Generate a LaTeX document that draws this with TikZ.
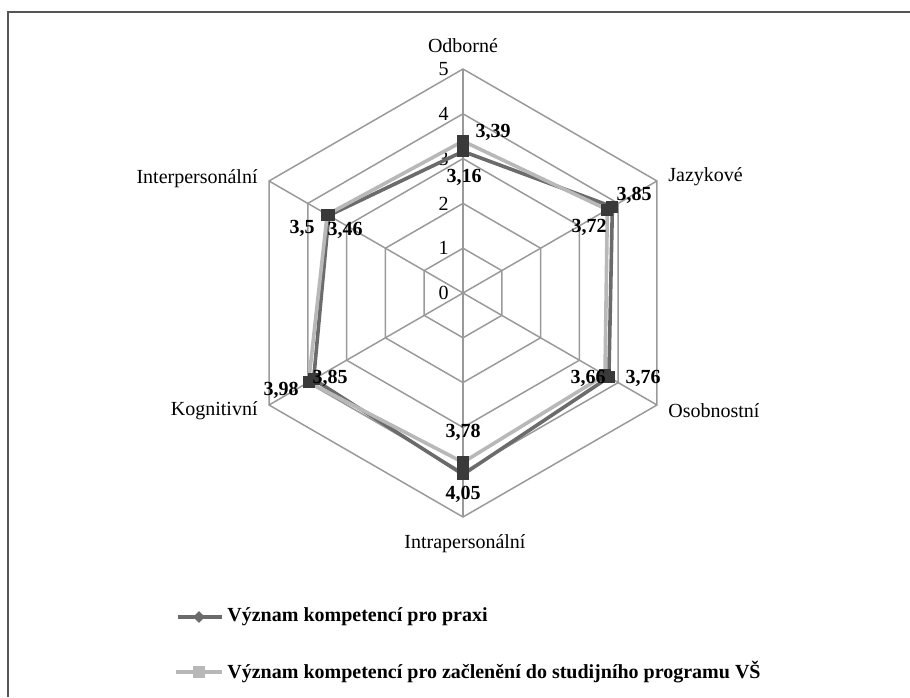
\documentclass[tikz,border=0pt]{standalone}
\usepackage{fontspec}
\setmainfont{Liberation Serif}
\usetikzlibrary{shapes,shapes.geometric}
\definecolor{gridc}{HTML}{9A9A9A}
\definecolor{darkc}{HTML}{6B6B6B}
\definecolor{lightc}{HTML}{B8B8B8}
\definecolor{markc}{HTML}{3A3A3A}
\definecolor{framec}{HTML}{555555}
\tikzset{
  grid_l/.style = {draw=gridc, line width=0.75pt},
  ax_lbl/.style = {inner sep=0pt, font=\fontsize{10}{12}\selectfont},
  val_lbl/.style = {inner sep=0pt, font=\fontsize{10}{12}\selectfont\bfseries},
  ser_p/.style = {draw=darkc, line width=1.8pt, line join=round},
  ser_v/.style = {draw=lightc, line width=1.8pt, line join=round},
  mark_sq/.style = {rectangle, fill=markc, minimum size=6pt, inner sep=0pt},
  leg_p/.style = {diamond, fill=darkc, minimum size=6pt, inner sep=0pt},
  leg_v/.style = {rectangle, fill=lightc, minimum size=6pt, inner sep=0pt}
}

\begin{document}
\begin{tikzpicture}[x=0.5pt, y=0.5pt]
	\useasboundingbox (0,0) rectangle (910,697);
	\draw[framec, line width=1pt] (8,0) -- (8,685) -- (910,685);

	\begin{scope}[shift={(463,404)}]
	\begin{scope}[x=22.4pt, y=22.4pt]
		% mrizka
		\foreach \r in {1,...,5}
			\draw[grid_l] (90:\r) -- (30:\r) -- (-30:\r) -- (-90:\r) -- (-150:\r) -- (150:\r) -- cycle;
		\foreach \a in {90,30,-30,-90,-150,150}
			\draw[grid_l] (0,0) -- (\a:5);
		\foreach \r in {0,...,5}
			\node[ax_lbl, anchor=east] (n\r) at (-0.31,\r) {\r};

		% data
		\foreach \v [count=\i] in {3.16,3.85,3.76,4.05,3.85,3.46}
			\coordinate (p\i) at ({150-60*\i}:\v);
		\foreach \v [count=\i] in {3.39,3.72,3.66,3.78,3.98,3.5}
			\coordinate (q\i) at ({150-60*\i}:\v);
		\draw[ser_p] (p1) -- (p2) -- (p3) -- (p4) -- (p5) -- (p6) -- cycle;
		\draw[ser_v] (q1) -- (q2) -- (q3) -- (q4) -- (q5) -- (q6) -- cycle;
		\foreach \i in {1,...,6} {
			\node[mark_sq] (mp\i) at (p\i) {};
			\node[mark_sq] (mq\i) at (q\i) {};
		}
	\end{scope}
	\end{scope}

	% osy
	\node[ax_lbl] (odb) at (463,651) {Odborné};
	\node[ax_lbl, anchor=west] (jaz) at (668,520) {Jazykové};
	\node[ax_lbl, anchor=west] (oso) at (668,286) {Osobnostní};
	\node[ax_lbl] (intra) at (465,153) {Intrapersonální};
	\node[ax_lbl, anchor=east] (kog) at (258,286) {Kognitivní};
	\node[ax_lbl, anchor=east] (inter) at (258,518) {Interpersonální};

	% hodnoty
	\node[val_lbl] (v1) at (493,565) {3,39};
	\node[val_lbl] (v2) at (464,520) {3,16};
	\node[val_lbl] (v3) at (634,502) {3,85};
	\node[val_lbl] (v4) at (589,470) {3,72};
	\node[val_lbl] (v5) at (588,319) {3,66};
	\node[val_lbl] (v6) at (643,319) {3,76};
	\node[val_lbl] (v7) at (463,265) {3,78};
	\node[val_lbl] (v8) at (463,203) {4,05};
	\node[val_lbl] (v9) at (281,307) {3,98};
	\node[val_lbl] (v10) at (330,319) {3,85};
	\node[val_lbl] (v11) at (302,469) {3,5};
	\node[val_lbl] (v12) at (345,467) {3,46};

	% legenda
	\coordinate (la1) at (178,80);
	\coordinate (lb1) at (222,80);
	\draw[ser_p] (la1) -- (lb1);
	\node[leg_p] (lm1) at (199,80) {};
	\node[val_lbl, anchor=west] (lt1) at (227,80) {Význam kompetencí pro praxi};
	\coordinate (la2) at (176,25);
	\coordinate (lb2) at (222,25);
	\draw[ser_v] (la2) -- (lb2);
	\node[leg_v] (lm2) at (199,25) {};
	\node[val_lbl, anchor=west] (lt2) at (227,25) {Význam kompetencí pro začlenění do studijního programu VŠ};
\end{tikzpicture}
\end{document}
